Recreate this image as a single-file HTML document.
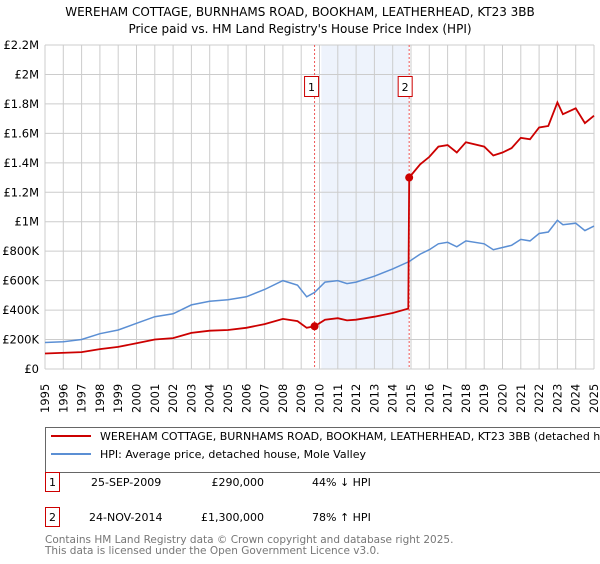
<!DOCTYPE html>
<html><head><meta charset="utf-8"><style>
body{margin:0;background:#fff;font-family:"DejaVu Sans","Liberation Sans",sans-serif;}
svg text{font-family:"DejaVu Sans","Liberation Sans",sans-serif;}
</style></head><body>
<svg id="c" width="600" height="560" xmlns="http://www.w3.org/2000/svg">
<text x="300" y="16" text-anchor="middle" font-size="12">WEREHAM COTTAGE, BURNHAMS ROAD, BOOKHAM, LEATHERHEAD, KT23 3BB</text>
<text x="300" y="33" text-anchor="middle" font-size="12">Price paid vs. HM Land Registry's House Price Index (HPI)</text>
<g id="grid"></g><g id="marks"></g><g id="axes"></g>
<rect x="45.5" y="427.5" width="570" height="45" fill="#fff" stroke="#666"/>
<line x1="51" y1="436" x2="91" y2="436" stroke="#cc0000" stroke-width="2"/>
<text x="100" y="440" font-size="11">WEREHAM COTTAGE, BURNHAMS ROAD, BOOKHAM, LEATHERHEAD, KT23 3BB (detached house)</text>
<line x1="51" y1="454" x2="91" y2="454" stroke="#5b8fd4" stroke-width="2"/>
<text x="100" y="458" font-size="11">HPI: Average price, detached house, Mole Valley</text>
<rect x="45.5" y="472.5" width="14" height="19" fill="#fff" stroke="#cc0000"/>
<text x="52.5" y="486" text-anchor="middle" font-size="11">1</text>
<text x="91" y="486" font-size="11">25-SEP-2009</text>
<text x="264" y="486" text-anchor="end" font-size="11">£290,000</text>
<text x="312" y="486" font-size="11">44% ↓ HPI</text>
<rect x="45.5" y="507.5" width="14" height="19" fill="#fff" stroke="#cc0000"/>
<text x="52.5" y="521" text-anchor="middle" font-size="11">2</text>
<text x="89" y="521" font-size="11">24-NOV-2014</text>
<text x="264" y="521" text-anchor="end" font-size="11">£1,300,000</text>
<text x="312" y="521" font-size="11">78% ↑ HPI</text>
<text x="45" y="543" font-size="10.5" fill="#777">Contains HM Land Registry data © Crown copyright and database right 2025.</text>
<text x="45" y="554" font-size="10.5" fill="#777">This data is licensed under the Open Government Licence v3.0.</text>
</svg>
<script>
const hpiYears=[1995,1996,1997,1998,1999,2000,2001,2002,2003,2004,2005,2006,2007,2008,2008.8,2009.3,2009.73,2010.3,2011,2011.5,2012,2013,2014,2014.9,2015.5,2016,2016.5,2017,2017.5,2018,2019,2019.5,2020,2020.5,2021,2021.5,2022,2022.5,2023,2023.3,2024,2024.5,2025];
const hpiValues=[180,185,200,240,265,310,355,375,435,460,470,490,540,600,570,490,520,590,600,580,590,630,680,730,780,810,850,860,830,870,850,810,825,840,880,870,920,930,1010,980,990,940,970];
const priceYears=[1995,1997,1998,1999,2000,2001,2002,2003,2004,2005,2006,2007,2008,2008.8,2009.3,2009.73,2010.3,2011,2011.5,2012,2013,2014,2014.85,2014.9,2015.5,2016,2016.5,2017,2017.5,2018,2019,2019.5,2020,2020.5,2021,2021.5,2022,2022.5,2023,2023.3,2024,2024.5,2025];
const priceValues=[105,115,135,150,175,200,210,245,260,265,280,305,340,325,280,290,335,345,330,335,355,380,410,1300,1390,1440,1510,1520,1470,1540,1510,1450,1470,1500,1570,1560,1640,1650,1810,1730,1770,1670,1720];
const saleYears=[2009.73,2014.9];
const saleValues=[290,1300];
const yTicks=[0,200,400,600,800,1000,1200,1400,1600,1800,2000,2200];
const yTickLabels=["£0","£200K","£400K","£600K","£800K","£1M","£1.2M","£1.4M","£1.6M","£1.8M","£2M","£2.2M"];
const xTicks=[1995,1996,1997,1998,1999,2000,2001,2002,2003,2004,2005,2006,2007,2008,2009,2010,2011,2012,2013,2014,2015,2016,2017,2018,2019,2020,2021,2022,2023,2024,2025];
const NS="http://www.w3.org/2000/svg";
const L=45,R=594,T=45,B=369;
const xs=v=>L+(v-1995)/30*(R-L);
const ys=v=>B-v/2200*(B-T);
function mk(tag,attrs,parent){const e=document.createElementNS(NS,tag);for(const k in attrs)e.setAttribute(k,attrs[k]);(typeof parent==='string'?document.getElementById(parent):parent).appendChild(e);return e;}
let sh=mk('rect',{x:xs(2010.1),y:T,width:xs(saleYears[1])-xs(2010.1),height:B-T,fill:'#eef3fc'},'grid');


yTicks.forEach((v,i)=>{
 let g=mk('line',{x1:L,x2:R,y1:ys(v),y2:ys(v),stroke:'#cccccc'},'grid');
 
 
 let t=mk('text',{x:39,y:ys(v)+4,'text-anchor':'end','font-size':'11.5'},'axes');
 t.textContent=yTickLabels[i];
 
 
});
xTicks.forEach(v=>{
 let g=mk('line',{x1:xs(v),x2:xs(v),y1:T,y2:B,stroke:'#cccccc'},'grid');
 
 
 const tx=xs(v)+4,ty=413;
 let t=mk('text',{x:tx.toFixed(1),y:ty,'font-size':'11.5',transform:'rotate(-90 '+tx.toFixed(1)+' '+ty+')'},'axes');
 t.textContent=v;
 
 
});
saleYears.forEach((v,i)=>{
 let l=mk('line',{x1:xs(v),x2:xs(v),y1:T,y2:B,stroke:'#ee5555','stroke-dasharray':'2,2'},'grid');
 
 
 let r=mk('rect',{x:xs(v)-7+(i?-4:-3),y:76.5,width:14,height:20,fill:'#fff',stroke:'#cc0000'},'axes');
 
 
 let t=mk('text',{x:xs(v)+(i?-4:-3),y:91,'text-anchor':'middle','font-size':'11'},'axes');
 t.textContent=String(i+1);
 
 
});
const path=(xa,va)=>xa.map((x,i)=>(i?'L':'M')+xs(x).toFixed(1)+','+ys(va[i]).toFixed(1)).join('');
let hp=mk('path',{d:path(hpiYears,hpiValues),fill:'none',stroke:'#5b8fd4','stroke-width':1.5},'marks');


let pp=mk('path',{d:path(priceYears,priceValues),fill:'none',stroke:'#cc0000','stroke-width':1.8},'marks');


saleYears.forEach((v,i)=>{
 let c=mk('circle',{cx:xs(v),cy:ys(saleValues[i]),r:4,fill:'#cc0000'},'marks');
 
 
});
</script>
</body></html>
